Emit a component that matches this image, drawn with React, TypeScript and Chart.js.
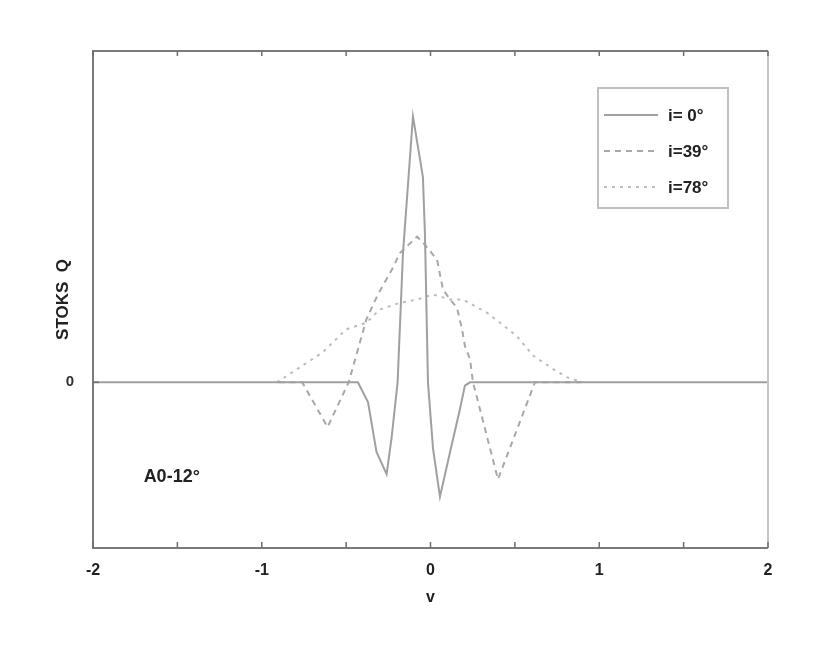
import React, { useEffect, useRef } from "react";
import { Chart, registerables } from "chart.js";

Chart.register(...registerables);

// i = 0° (solid)
const solidX = [-2, -0.43, -0.37, -0.32, -0.26, -0.23, -0.195, -0.163, -0.104, -0.045, -0.033, -0.015, 0.015, 0.056, 0.116, 0.175, 0.204, 0.234, 2];
const solidY = [0, 0, -0.12, -0.42, -0.555, -0.33, 0, 0.78, 1.605, 1.24, 0.9, 0, -0.4, -0.69, -0.42, -0.16, -0.02, 0, 0];

// i = 39° (dashed)
const dashX = [-0.9, -0.76, -0.61, -0.485, -0.38, -0.312, -0.229, -0.181, -0.08, -0.033, 0.039, 0.074, 0.116, 0.157, 0.187, 0.204, 0.234, 0.252, 0.4, 0.619, 0.9];
const dashY = [0, 0, -0.27, 0, 0.38, 0.53, 0.68, 0.78, 0.88, 0.83, 0.74, 0.56, 0.5, 0.45, 0.32, 0.22, 0.14, 0, -0.585, 0, 0];

// i = 78° (dotted)
const dotX = [-0.91, -0.76, -0.64, -0.5, -0.38, -0.3, -0.181, -0.08, 0.016, 0.116, 0.193, 0.335, 0.412, 0.51, 0.61, 0.727, 0.81, 0.9];
const dotY = [0, 0.1, 0.18, 0.32, 0.36, 0.44, 0.48, 0.5, 0.53, 0.5, 0.5, 0.42, 0.36, 0.28, 0.16, 0.08, 0.03, 0];

const seriesLabels = ["i= 0°", "i=39°", "i=78°"];
const xTickLabels = [-2, -1, 0, 1, 2];
const yTickLabels = [0];
const xTitle = "v";
const yTitle = "STOKS  Q";
const note = "A0-12°";
const notePos = { x: -1.7, y: -0.57 };

const pts = (xs: number[], ys: number[]) => xs.map((x, i) => ({ x, y: ys[i] }));

const FONT = "'Liberation Sans', Arial, sans-serif";

const framePlugin = {
  id: "frame",
  afterDraw(chart: any) {
    const { ctx, chartArea: a, scales } = chart;
    const xs = scales.x;
    const ys = scales.y;
    ctx.save();
    // frame
    ctx.lineWidth = 2;
    ctx.strokeStyle = "#c4c4c4";
    ctx.beginPath();
    ctx.moveTo(a.right, a.top);
    ctx.lineTo(a.right, a.bottom);
    ctx.stroke();
    ctx.strokeStyle = "#7a7a7a";
    ctx.beginPath();
    ctx.moveTo(a.right, a.top);
    ctx.lineTo(a.left, a.top);
    ctx.lineTo(a.left, a.bottom);
    ctx.lineTo(a.right, a.bottom);
    ctx.stroke();
    // inner ticks
    ctx.lineWidth = 1.5;
    ctx.strokeStyle = "#6e6e6e";
    xs.ticks.forEach((t: any) => {
      const px = xs.getPixelForValue(t.value);
      ctx.beginPath();
      ctx.moveTo(px, a.bottom);
      ctx.lineTo(px, a.bottom - 6);
      ctx.moveTo(px, a.top);
      ctx.lineTo(px, a.top + 5);
      ctx.stroke();
    });
    ys.ticks.forEach((t: any) => {
      const py = ys.getPixelForValue(t.value);
      ctx.beginPath();
      ctx.moveTo(a.left, py);
      ctx.lineTo(a.left + 6, py);
      ctx.stroke();
    });
    // annotation
    ctx.fillStyle = "#222";
    ctx.font = `bold 18px ${FONT}`;
    ctx.textBaseline = "middle";
    ctx.textAlign = "left";
    ctx.fillText(note, xs.getPixelForValue(notePos.x), ys.getPixelForValue(notePos.y));
    // legend box
    const lx = 598, ly = 88, lw = 130, lh = 120;
    ctx.lineWidth = 2;
    ctx.strokeStyle = "#c0c0c0";
    ctx.fillStyle = "#fff";
    ctx.fillRect(lx, ly, lw, lh);
    ctx.strokeRect(lx, ly, lw, lh);
    chart.data.datasets.forEach((ds: any, i: number) => {
      const yy = 115 + i * 36;
      ctx.save();
      ctx.strokeStyle = ds.borderColor;
      ctx.lineWidth = ds.borderWidth;
      ctx.setLineDash(ds.borderDash || []);
      ctx.beginPath();
      ctx.moveTo(604, yy);
      ctx.lineTo(658, yy);
      ctx.stroke();
      ctx.restore();
      ctx.fillStyle = "#222";
      ctx.font = `bold 17px ${FONT}`;
      ctx.textAlign = "left";
      ctx.textBaseline = "middle";
      ctx.fillText(ds.label, 668, yy + 1);
    });
    ctx.restore();
  },
};

export default function App() {
  const ref = useRef<HTMLCanvasElement | null>(null);
  useEffect(() => {
    if (!ref.current) return;
    const chart = new Chart(ref.current, {
      type: "line",
      data: {
        datasets: [
          {
            label: seriesLabels[0],
            data: pts(solidX, solidY),
            borderColor: "#a0a0a0",
            borderWidth: 2,
            pointRadius: 0,
            tension: 0,
          },
          {
            label: seriesLabels[1],
            data: pts(dashX, dashY),
            borderColor: "#a8a8a8",
            borderWidth: 2,
            borderDash: [6, 5],
            pointRadius: 0,
            tension: 0,
          },
          {
            label: seriesLabels[2],
            data: pts(dotX, dotY),
            borderColor: "#bdbdbd",
            borderWidth: 2,
            borderDash: [3, 5],
            pointRadius: 0,
            tension: 0,
          },
        ],
      },
      options: {
        responsive: false,
        animation: false,
        layout: { padding: { top: 51, right: 62, left: 0, bottom: 0 } },
        plugins: { legend: { display: false }, tooltip: { enabled: false } },
        scales: {
          x: {
            type: "linear",
            min: -2,
            max: 2,
            afterBuildTicks: (s: any) => {
              const t: any[] = [];
              for (let v = -2; v <= 2.001; v += 0.5) t.push({ value: Math.round(v * 10) / 10 });
              s.ticks = t;
            },
            afterFit: (s: any) => {
              s.height = 113;
            },
            ticks: {
              padding: 5,
              color: "#222",
              font: { family: FONT, size: 16, weight: "bold" },
              callback: (v: any) => (xTickLabels.includes(Number(v)) ? String(v) : ""),
              maxRotation: 0,
              autoSkip: false,
            },
            grid: { display: false },
            border: { display: false },
            title: {
              display: true,
              text: xTitle,
              color: "#222",
              font: { family: FONT, size: 16, weight: "bold" },
              padding: { top: 0, bottom: 54 },
            },
          },
          y: {
            type: "linear",
            min: -1,
            max: 2,
            afterBuildTicks: (s: any) => {
              s.ticks = yTickLabels.map((v) => ({ value: v }));
            },
            afterFit: (s: any) => {
              s.width = 93;
            },
            ticks: {
              padding: 11,
              color: "#333",
              font: { family: FONT, size: 15, weight: "bold" },
            },
            grid: { display: false },
            border: { display: false },
            title: {
              display: true,
              text: yTitle,
              color: "#222",
              font: { family: FONT, size: 17, weight: "bold" },
              padding: { top: 53, bottom: 0 },
            },
          },
        },
      },
      plugins: [framePlugin],
    } as any);
    return () => chart.destroy();
  }, []);
  return (
    <div style={{ position: "fixed", left: 0, top: 0, width: 830, height: 661, background: "#fff" }}>
      <canvas ref={ref} width={830} height={661} />
    </div>
  );
}
